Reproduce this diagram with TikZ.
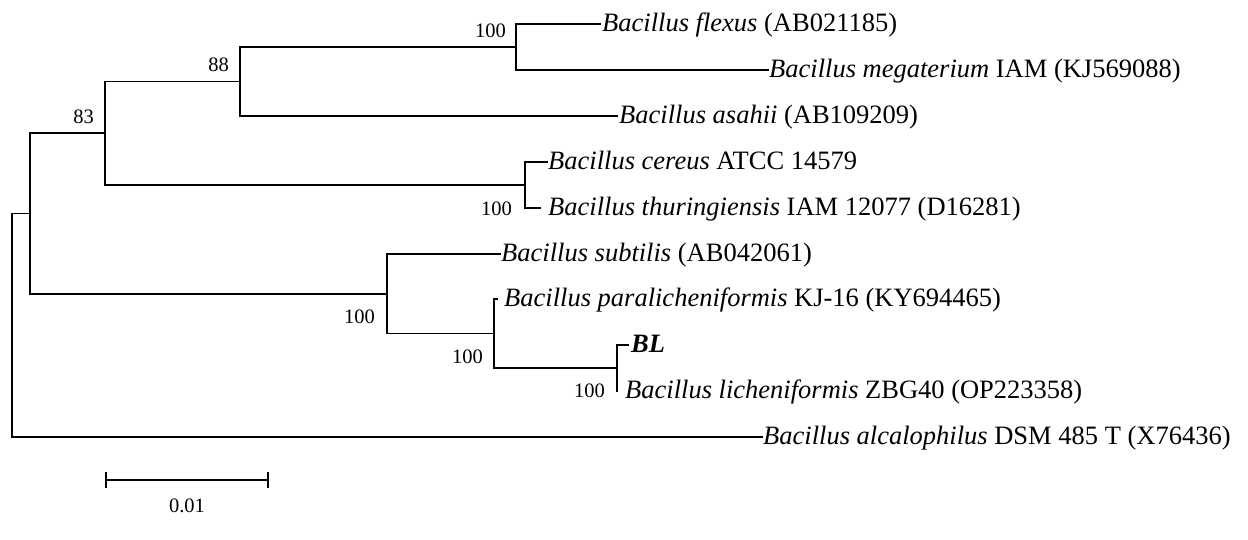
\documentclass[tikz,border=0pt]{standalone}
\usepackage{fontspec}
\setmainfont{Liberation Serif}
\begin{document}
\begin{tikzpicture}[x=1pt,y=-1pt,
  branch/.style={line width=1.4pt, line cap=rect},
  tip/.style={anchor=base west, inner sep=0pt, font=\fontsize{26.5}{26.5}\selectfont},
  boot/.style={anchor=base east, inner sep=0pt, font=\fontsize{20.5}{20.5}\selectfont},
  scalelab/.style={anchor=base, inner sep=0pt, font=\fontsize{20.5}{20.5}\selectfont}]
\useasboundingbox (0,0) rectangle (1248,539);
% internal nodes
\coordinate (root) at (12,325);
\coordinate (nA) at (30,213.5);
\coordinate (n83) at (105,133);
\coordinate (n88) at (240,81.5);
\coordinate (nfl) at (516,47);
\coordinate (nCer) at (525,185);
\coordinate (nSub) at (387,294);
\coordinate (nPar) at (494,333.5);
\coordinate (nBL) at (617,368);
% tips
\coordinate (tFlex) at (600,24);
\coordinate (tMeg) at (768,70);
\coordinate (tAsa) at (617,116);
\coordinate (tCer) at (547,162);
\coordinate (tThu) at (540,208);
\coordinate (tSub) at (500,254);
\coordinate (tPar) at (497,299);
\coordinate (tBL) at (628,345);
\coordinate (tLic) at (617,391);
\coordinate (tAlc) at (762,437);
% branches
\draw[branch] (root) |- (nA);
\draw[branch] (root) |- (tAlc);
\draw[branch] (nA) |- (n83);
\draw[branch] (nA) |- (nSub);
\draw[branch] (n83) |- (n88);
\draw[branch] (n83) |- (nCer);
\draw[branch] (n88) |- (nfl);
\draw[branch] (n88) |- (tAsa);
\draw[branch] (nfl) |- (tFlex);
\draw[branch] (nfl) |- (tMeg);
\draw[branch] (nCer) |- (tCer);
\draw[branch] (nCer) |- (tThu);
\draw[branch] (nSub) |- (tSub);
\draw[branch] (nSub) |- (nPar);
\draw[branch] (nPar) |- (tPar);
\draw[branch] (nPar) |- (nBL);
\draw[branch] (nBL) |- (tBL);
\draw[branch] (nBL) |- (tLic);
% tip labels
\node[tip] (lFlex) at ([xshift=2pt,yshift=-7pt]tFlex) {\textit{Bacillus flexus} (AB021185)};
\node[tip] (lMeg) at ([xshift=1pt,yshift=-7pt]tMeg) {\textit{Bacillus megaterium} IAM (KJ569088)};
\node[tip] (lAsa) at ([xshift=2pt,yshift=-7pt]tAsa) {\textit{Bacillus asahii} (AB109209)};
\node[tip] (lCer) at ([xshift=1pt,yshift=-7pt]tCer) {\textit{Bacillus cereus} ATCC 14579};
\node[tip] (lThu) at ([xshift=8pt,yshift=-7pt]tThu) {\textit{Bacillus thuringiensis} IAM 12077 (D16281)};
\node[tip] (lSub) at ([xshift=1pt,yshift=-7pt]tSub) {\textit{Bacillus subtilis} (AB042061)};
\node[tip] (lPar) at ([xshift=7pt,yshift=-7pt]tPar) {\textit{Bacillus paralicheniformis} KJ-16 (KY694465)};
\node[tip] (lBL) at ([xshift=3pt,yshift=-7pt]tBL) {\textbf{\textit{BL}}};
\node[tip] (lLic) at ([xshift=8pt,yshift=-7pt]tLic) {\textit{Bacillus licheniformis} ZBG40 (OP223358)};
\node[tip] (lAlc) at ([xshift=1pt,yshift=-7pt]tAlc) {\textit{Bacillus alcalophilus} DSM 485 T (X76436)};
% bootstrap values
\node[boot] (b1) at (506,37) {100};
\node[boot] (b2) at (229,71) {88};
\node[boot] (b3) at (94,123) {83};
\node[boot] (b4) at (512,215) {100};
\node[boot] (b5) at (375,323) {100};
\node[boot] (b6) at (483,363) {100};
\node[boot] (b7) at (605,397) {100};
% scale bar
\coordinate (sL) at (106,480);
\coordinate (sR) at (268,480);
\draw[line width=1.4pt] (sL) -- (sR);
\draw[line width=1.4pt] ([yshift=8pt]sL) -- ([yshift=-8pt]sL);
\draw[line width=1.4pt] ([yshift=8pt]sR) -- ([yshift=-8pt]sR);
\node[scalelab] (sLab) at (187,512) {0.01};
\end{tikzpicture}
\end{document}
